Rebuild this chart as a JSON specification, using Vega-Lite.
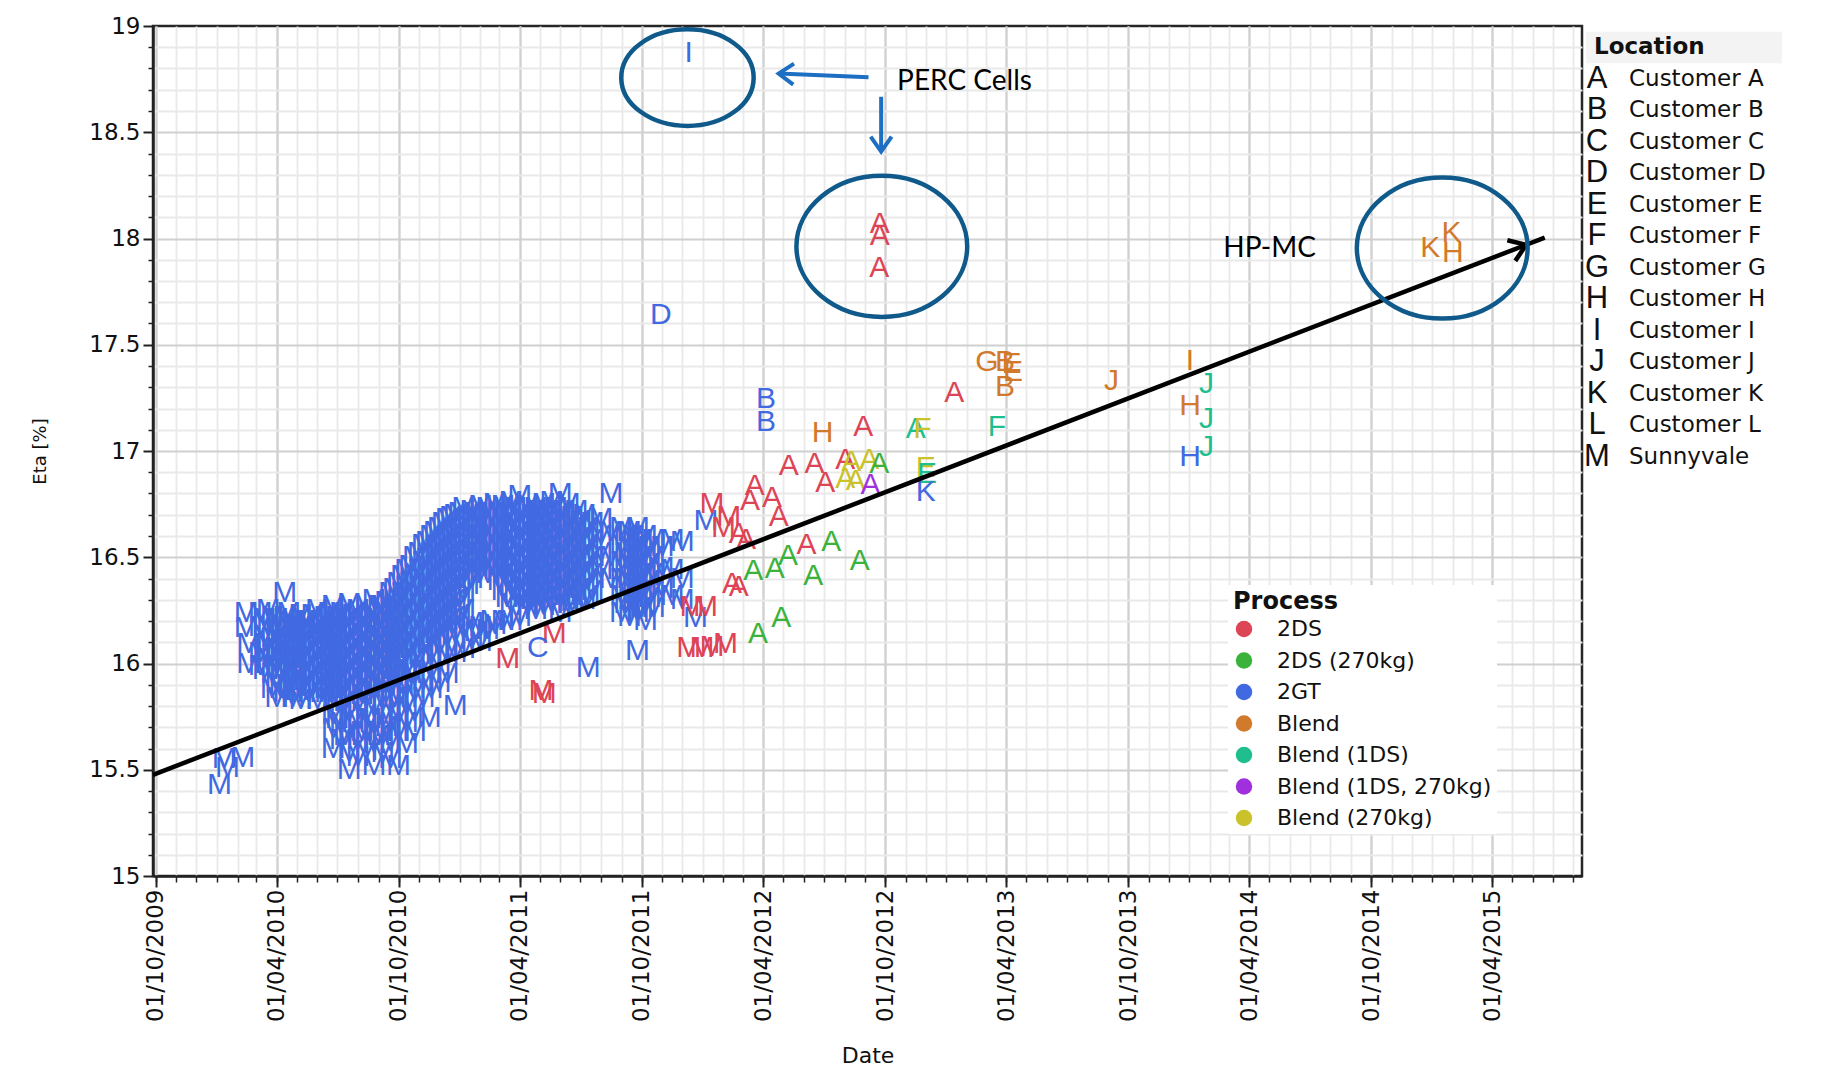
{
  "$schema": "https://vega.github.io/schema/vega-lite/v6.json",
  "background": "white",
  "padding": {"left": 30, "top": 13, "right": 0, "bottom": 0},
  "bounds": "flush",
  "spacing": 4,
  "config": {
    "view": {"stroke": "#262626", "strokeWidth": 2.5},
    "font": "DejaVu Sans",
    "axis": {"labelFont": "DejaVu Sans", "titleFont": "DejaVu Sans", "labelColor": "#111111", "titleColor": "#111111", "titleFontWeight": "normal"}
  },
  "resolve": {"scale": {"color": "independent"}, "legend": {"color": "independent"}},
  "datasets": {
    "points": [
      {"Date": "2011-12-11", "Eta": 18.874, "Location": "I", "Process": "2GT"},
      {"Date": "2012-09-23", "Eta": 18.07, "Location": "A", "Process": "2DS"},
      {"Date": "2012-09-23", "Eta": 18.01, "Location": "A", "Process": "2DS"},
      {"Date": "2012-09-22", "Eta": 17.862, "Location": "A", "Process": "2DS"},
      {"Date": "2011-10-30", "Eta": 17.638, "Location": "D", "Process": "2GT"},
      {"Date": "2012-04-05", "Eta": 17.245, "Location": "B", "Process": "2GT"},
      {"Date": "2012-04-05", "Eta": 17.135, "Location": "B", "Process": "2GT"},
      {"Date": "2012-06-29", "Eta": 17.083, "Location": "H", "Process": "Blend"},
      {"Date": "2012-08-29", "Eta": 17.111, "Location": "A", "Process": "2DS"},
      {"Date": "2012-11-16", "Eta": 17.105, "Location": "A", "Process": "Blend (1DS)"},
      {"Date": "2012-11-26", "Eta": 17.105, "Location": "F", "Process": "Blend (270kg)"},
      {"Date": "2013-01-13", "Eta": 17.272, "Location": "A", "Process": "2DS"},
      {"Date": "2013-03-03", "Eta": 17.417, "Location": "G", "Process": "Blend"},
      {"Date": "2013-03-30", "Eta": 17.417, "Location": "B", "Process": "Blend"},
      {"Date": "2013-04-09", "Eta": 17.41, "Location": "E", "Process": "Blend"},
      {"Date": "2013-04-11", "Eta": 17.37, "Location": "E", "Process": "Blend"},
      {"Date": "2013-03-30", "Eta": 17.3, "Location": "B", "Process": "Blend"},
      {"Date": "2013-03-18", "Eta": 17.111, "Location": "F", "Process": "Blend (1DS)"},
      {"Date": "2013-09-06", "Eta": 17.331, "Location": "J", "Process": "Blend"},
      {"Date": "2014-01-02", "Eta": 17.425, "Location": "I", "Process": "Blend"},
      {"Date": "2014-01-27", "Eta": 17.315, "Location": "J", "Process": "Blend (1DS)"},
      {"Date": "2014-01-02", "Eta": 17.213, "Location": "H", "Process": "Blend"},
      {"Date": "2014-01-27", "Eta": 17.151, "Location": "J", "Process": "Blend (1DS)"},
      {"Date": "2014-01-02", "Eta": 16.97, "Location": "H", "Process": "2GT"},
      {"Date": "2014-01-27", "Eta": 17.017, "Location": "J", "Process": "Blend (1DS)"},
      {"Date": "2014-12-29", "Eta": 17.955, "Location": "K", "Process": "Blend"},
      {"Date": "2015-01-30", "Eta": 18.026, "Location": "K", "Process": "Blend"},
      {"Date": "2015-02-01", "Eta": 17.933, "Location": "H", "Process": "Blend"},
      {"Date": "2012-05-09", "Eta": 16.93, "Location": "A", "Process": "2DS"},
      {"Date": "2012-06-17", "Eta": 16.94, "Location": "A", "Process": "2DS"},
      {"Date": "2012-08-02", "Eta": 16.96, "Location": "A", "Process": "2DS"},
      {"Date": "2012-08-11", "Eta": 16.95, "Location": "A", "Process": "Blend (270kg)"},
      {"Date": "2012-09-07", "Eta": 16.96, "Location": "A", "Process": "Blend (270kg)"},
      {"Date": "2012-09-22", "Eta": 16.94, "Location": "A", "Process": "2DS (270kg)"},
      {"Date": "2012-07-03", "Eta": 16.85, "Location": "A", "Process": "2DS"},
      {"Date": "2012-08-02", "Eta": 16.87, "Location": "A", "Process": "Blend (270kg)"},
      {"Date": "2012-08-18", "Eta": 16.86, "Location": "A", "Process": "Blend (270kg)"},
      {"Date": "2012-09-09", "Eta": 16.84, "Location": "A", "Process": "Blend (1DS, 270kg)"},
      {"Date": "2012-12-01", "Eta": 16.92, "Location": "E", "Process": "Blend (270kg)"},
      {"Date": "2012-12-03", "Eta": 16.89, "Location": "E", "Process": "Blend (1DS)"},
      {"Date": "2012-12-01", "Eta": 16.805, "Location": "K", "Process": "2GT"},
      {"Date": "2012-03-19", "Eta": 16.837, "Location": "A", "Process": "2DS"},
      {"Date": "2012-03-12", "Eta": 16.766, "Location": "A", "Process": "2DS"},
      {"Date": "2012-04-14", "Eta": 16.78, "Location": "A", "Process": "2DS"},
      {"Date": "2012-04-24", "Eta": 16.69, "Location": "A", "Process": "2DS"},
      {"Date": "2012-02-24", "Eta": 16.61, "Location": "A", "Process": "2DS"},
      {"Date": "2012-03-06", "Eta": 16.58, "Location": "A", "Process": "2DS"},
      {"Date": "2012-01-15", "Eta": 16.75, "Location": "M", "Process": "2DS"},
      {"Date": "2012-02-09", "Eta": 16.69, "Location": "M", "Process": "2DS"},
      {"Date": "2012-02-01", "Eta": 16.64, "Location": "M", "Process": "2DS"},
      {"Date": "2012-02-14", "Eta": 16.374, "Location": "A", "Process": "2DS"},
      {"Date": "2012-02-24", "Eta": 16.358, "Location": "A", "Process": "2DS"},
      {"Date": "2012-03-17", "Eta": 16.436, "Location": "A", "Process": "2DS (270kg)"},
      {"Date": "2012-04-18", "Eta": 16.444, "Location": "A", "Process": "2DS (270kg)"},
      {"Date": "2012-05-08", "Eta": 16.507, "Location": "A", "Process": "2DS (270kg)"},
      {"Date": "2012-06-05", "Eta": 16.56, "Location": "A", "Process": "2DS"},
      {"Date": "2012-07-12", "Eta": 16.57, "Location": "A", "Process": "2DS (270kg)"},
      {"Date": "2012-06-15", "Eta": 16.41, "Location": "A", "Process": "2DS (270kg)"},
      {"Date": "2012-08-24", "Eta": 16.483, "Location": "A", "Process": "2DS (270kg)"},
      {"Date": "2012-03-24", "Eta": 16.138, "Location": "A", "Process": "2DS (270kg)"},
      {"Date": "2012-04-28", "Eta": 16.216, "Location": "A", "Process": "2DS (270kg)"},
      {"Date": "2011-12-11", "Eta": 16.075, "Location": "M", "Process": "2DS"},
      {"Date": "2011-12-31", "Eta": 16.075, "Location": "M", "Process": "2DS"},
      {"Date": "2012-01-15", "Eta": 16.08, "Location": "M", "Process": "2DS"},
      {"Date": "2012-02-04", "Eta": 16.09, "Location": "M", "Process": "2DS"},
      {"Date": "2011-12-16", "Eta": 16.264, "Location": "M", "Process": "2DS"},
      {"Date": "2012-01-05", "Eta": 16.264, "Location": "M", "Process": "2DS"},
      {"Date": "2011-03-14", "Eta": 16.02, "Location": "M", "Process": "2DS"},
      {"Date": "2011-05-23", "Eta": 16.138, "Location": "M", "Process": "2DS"},
      {"Date": "2011-05-03", "Eta": 15.871, "Location": "M", "Process": "2DS"},
      {"Date": "2011-05-08", "Eta": 15.856, "Location": "M", "Process": "2DS"},
      {"Date": "2011-04-28", "Eta": 16.075, "Location": "C", "Process": "2GT"}
    ],
    "sunnyvale": [
      {"Date": "2010-01-05", "Eta": 15.43}, {"Date": "2010-01-12", "Eta": 15.55}, {"Date": "2010-01-17", "Eta": 15.51}, {"Date": "2010-02-09", "Eta": 15.557},
      {"Date": "2010-02-14", "Eta": 16.24}, {"Date": "2010-02-14", "Eta": 16.169}, {"Date": "2010-02-18", "Eta": 16.091}, {"Date": "2010-02-18", "Eta": 15.997},
      {"Date": "2010-11-16", "Eta": 15.745}, {"Date": "2010-12-25", "Eta": 15.8}, {"Date": "2011-07-13", "Eta": 15.98}, {"Date": "2011-12-21", "Eta": 16.216}, {"Date": "2012-01-06", "Eta": 16.67},
      {"Date": "2010-03-07", "Eta": 16.24}, {"Date": "2010-03-07", "Eta": 16.17}, {"Date": "2010-03-07", "Eta": 16.05}, {"Date": "2010-03-07", "Eta": 15.99},
      {"Date": "2010-03-19", "Eta": 16.25}, {"Date": "2010-03-19", "Eta": 16.17}, {"Date": "2010-03-19", "Eta": 16.1}, {"Date": "2010-03-19", "Eta": 16.02},
      {"Date": "2010-04-01", "Eta": 16.21}, {"Date": "2010-04-01", "Eta": 16.14}, {"Date": "2010-04-01", "Eta": 16.07}, {"Date": "2010-04-01", "Eta": 15.99}, {"Date": "2010-04-01", "Eta": 15.91}, {"Date": "2010-04-01", "Eta": 15.84},
      {"Date": "2010-04-13", "Eta": 16.33}, {"Date": "2010-04-13", "Eta": 16.22}, {"Date": "2010-04-13", "Eta": 16.16}, {"Date": "2010-04-13", "Eta": 16.1}, {"Date": "2010-04-13", "Eta": 16.04}, {"Date": "2010-04-13", "Eta": 15.97}, {"Date": "2010-04-13", "Eta": 15.86},
      {"Date": "2010-04-25", "Eta": 16.2}, {"Date": "2010-04-25", "Eta": 16.13}, {"Date": "2010-04-25", "Eta": 16.06}, {"Date": "2010-04-25", "Eta": 16.0}, {"Date": "2010-04-25", "Eta": 15.93}, {"Date": "2010-04-25", "Eta": 15.84},
      {"Date": "2010-05-07", "Eta": 16.23}, {"Date": "2010-05-07", "Eta": 16.17}, {"Date": "2010-05-07", "Eta": 16.11}, {"Date": "2010-05-07", "Eta": 16.03}, {"Date": "2010-05-07", "Eta": 15.96}, {"Date": "2010-05-07", "Eta": 15.89}, {"Date": "2010-05-07", "Eta": 15.83},
      {"Date": "2010-05-19", "Eta": 16.2}, {"Date": "2010-05-19", "Eta": 16.14}, {"Date": "2010-05-19", "Eta": 16.08}, {"Date": "2010-05-19", "Eta": 16.01}, {"Date": "2010-05-19", "Eta": 15.94}, {"Date": "2010-05-19", "Eta": 15.86},
      {"Date": "2010-06-01", "Eta": 16.25}, {"Date": "2010-06-01", "Eta": 16.18}, {"Date": "2010-06-01", "Eta": 16.12}, {"Date": "2010-06-01", "Eta": 16.05}, {"Date": "2010-06-01", "Eta": 15.98}, {"Date": "2010-06-01", "Eta": 15.9}, {"Date": "2010-06-01", "Eta": 15.83},
      {"Date": "2010-06-13", "Eta": 16.22}, {"Date": "2010-06-13", "Eta": 16.15}, {"Date": "2010-06-13", "Eta": 16.09}, {"Date": "2010-06-13", "Eta": 16.02}, {"Date": "2010-06-13", "Eta": 15.95}, {"Date": "2010-06-13", "Eta": 15.88},
      {"Date": "2010-06-25", "Eta": 16.27}, {"Date": "2010-06-25", "Eta": 16.2}, {"Date": "2010-06-25", "Eta": 16.13}, {"Date": "2010-06-25", "Eta": 16.06}, {"Date": "2010-06-25", "Eta": 15.99}, {"Date": "2010-06-25", "Eta": 15.91}, {"Date": "2010-06-25", "Eta": 15.84}, {"Date": "2010-06-25", "Eta": 15.76}, {"Date": "2010-06-25", "Eta": 15.69}, {"Date": "2010-06-25", "Eta": 15.6},
      {"Date": "2010-07-07", "Eta": 16.24}, {"Date": "2010-07-07", "Eta": 16.17}, {"Date": "2010-07-07", "Eta": 16.1}, {"Date": "2010-07-07", "Eta": 16.03}, {"Date": "2010-07-07", "Eta": 15.96}, {"Date": "2010-07-07", "Eta": 15.88}, {"Date": "2010-07-07", "Eta": 15.8}, {"Date": "2010-07-07", "Eta": 15.72}, {"Date": "2010-07-07", "Eta": 15.64},
      {"Date": "2010-07-19", "Eta": 16.28}, {"Date": "2010-07-19", "Eta": 16.21}, {"Date": "2010-07-19", "Eta": 16.14}, {"Date": "2010-07-19", "Eta": 16.07}, {"Date": "2010-07-19", "Eta": 16.0}, {"Date": "2010-07-19", "Eta": 15.93}, {"Date": "2010-07-19", "Eta": 15.85}, {"Date": "2010-07-19", "Eta": 15.77}, {"Date": "2010-07-19", "Eta": 15.68}, {"Date": "2010-07-19", "Eta": 15.58}, {"Date": "2010-07-19", "Eta": 15.5},
      {"Date": "2010-08-01", "Eta": 16.25}, {"Date": "2010-08-01", "Eta": 16.18}, {"Date": "2010-08-01", "Eta": 16.11}, {"Date": "2010-08-01", "Eta": 16.04}, {"Date": "2010-08-01", "Eta": 15.97}, {"Date": "2010-08-01", "Eta": 15.89}, {"Date": "2010-08-01", "Eta": 15.81}, {"Date": "2010-08-01", "Eta": 15.73}, {"Date": "2010-08-01", "Eta": 15.64}, {"Date": "2010-08-01", "Eta": 15.56},
      {"Date": "2010-08-13", "Eta": 16.27}, {"Date": "2010-08-13", "Eta": 16.2}, {"Date": "2010-08-13", "Eta": 16.13}, {"Date": "2010-08-13", "Eta": 16.06}, {"Date": "2010-08-13", "Eta": 15.99}, {"Date": "2010-08-13", "Eta": 15.92}, {"Date": "2010-08-13", "Eta": 15.84}, {"Date": "2010-08-13", "Eta": 15.76}, {"Date": "2010-08-13", "Eta": 15.68}, {"Date": "2010-08-13", "Eta": 15.59},
      {"Date": "2010-08-25", "Eta": 16.3}, {"Date": "2010-08-25", "Eta": 16.23}, {"Date": "2010-08-25", "Eta": 16.16}, {"Date": "2010-08-25", "Eta": 16.09}, {"Date": "2010-08-25", "Eta": 16.02}, {"Date": "2010-08-25", "Eta": 15.95}, {"Date": "2010-08-25", "Eta": 15.87}, {"Date": "2010-08-25", "Eta": 15.79}, {"Date": "2010-08-25", "Eta": 15.71}, {"Date": "2010-08-25", "Eta": 15.62}, {"Date": "2010-08-25", "Eta": 15.52},
      {"Date": "2010-09-07", "Eta": 16.26}, {"Date": "2010-09-07", "Eta": 16.19}, {"Date": "2010-09-07", "Eta": 16.12}, {"Date": "2010-09-07", "Eta": 16.05}, {"Date": "2010-09-07", "Eta": 15.98}, {"Date": "2010-09-07", "Eta": 15.9}, {"Date": "2010-09-07", "Eta": 15.82}, {"Date": "2010-09-07", "Eta": 15.74}, {"Date": "2010-09-07", "Eta": 15.66}, {"Date": "2010-09-07", "Eta": 15.58},
      {"Date": "2010-09-19", "Eta": 16.33}, {"Date": "2010-09-19", "Eta": 16.25}, {"Date": "2010-09-19", "Eta": 16.18}, {"Date": "2010-09-19", "Eta": 16.11}, {"Date": "2010-09-19", "Eta": 16.04}, {"Date": "2010-09-19", "Eta": 15.96}, {"Date": "2010-09-19", "Eta": 15.88}, {"Date": "2010-09-19", "Eta": 15.8}, {"Date": "2010-09-19", "Eta": 15.72}, {"Date": "2010-09-19", "Eta": 15.63}, {"Date": "2010-09-19", "Eta": 15.55},
      {"Date": "2010-10-01", "Eta": 16.38}, {"Date": "2010-10-01", "Eta": 16.3}, {"Date": "2010-10-01", "Eta": 16.22}, {"Date": "2010-10-01", "Eta": 16.15}, {"Date": "2010-10-01", "Eta": 16.08}, {"Date": "2010-10-01", "Eta": 16.0}, {"Date": "2010-10-01", "Eta": 15.92}, {"Date": "2010-10-01", "Eta": 15.84}, {"Date": "2010-10-01", "Eta": 15.76}, {"Date": "2010-10-01", "Eta": 15.68}, {"Date": "2010-10-01", "Eta": 15.52},
      {"Date": "2010-10-13", "Eta": 16.44}, {"Date": "2010-10-13", "Eta": 16.36}, {"Date": "2010-10-13", "Eta": 16.28}, {"Date": "2010-10-13", "Eta": 16.2}, {"Date": "2010-10-13", "Eta": 16.12}, {"Date": "2010-10-13", "Eta": 16.05}, {"Date": "2010-10-13", "Eta": 15.97}, {"Date": "2010-10-13", "Eta": 15.89}, {"Date": "2010-10-13", "Eta": 15.8}, {"Date": "2010-10-13", "Eta": 15.72}, {"Date": "2010-10-13", "Eta": 15.62},
      {"Date": "2010-10-25", "Eta": 16.5}, {"Date": "2010-10-25", "Eta": 16.42}, {"Date": "2010-10-25", "Eta": 16.34}, {"Date": "2010-10-25", "Eta": 16.26}, {"Date": "2010-10-25", "Eta": 16.18}, {"Date": "2010-10-25", "Eta": 16.1}, {"Date": "2010-10-25", "Eta": 16.02}, {"Date": "2010-10-25", "Eta": 15.94}, {"Date": "2010-10-25", "Eta": 15.86}, {"Date": "2010-10-25", "Eta": 15.77}, {"Date": "2010-10-25", "Eta": 15.68},
      {"Date": "2010-11-07", "Eta": 16.56}, {"Date": "2010-11-07", "Eta": 16.48}, {"Date": "2010-11-07", "Eta": 16.4}, {"Date": "2010-11-07", "Eta": 16.32}, {"Date": "2010-11-07", "Eta": 16.24}, {"Date": "2010-11-07", "Eta": 16.16}, {"Date": "2010-11-07", "Eta": 16.08}, {"Date": "2010-11-07", "Eta": 16.0}, {"Date": "2010-11-07", "Eta": 15.92}, {"Date": "2010-11-07", "Eta": 15.84},
      {"Date": "2010-11-19", "Eta": 16.6}, {"Date": "2010-11-19", "Eta": 16.52}, {"Date": "2010-11-19", "Eta": 16.44}, {"Date": "2010-11-19", "Eta": 16.36}, {"Date": "2010-11-19", "Eta": 16.28}, {"Date": "2010-11-19", "Eta": 16.2}, {"Date": "2010-11-19", "Eta": 16.12}, {"Date": "2010-11-19", "Eta": 16.04}, {"Date": "2010-11-19", "Eta": 15.96}, {"Date": "2010-11-19", "Eta": 15.88},
      {"Date": "2010-12-01", "Eta": 16.64}, {"Date": "2010-12-01", "Eta": 16.56}, {"Date": "2010-12-01", "Eta": 16.48}, {"Date": "2010-12-01", "Eta": 16.4}, {"Date": "2010-12-01", "Eta": 16.32}, {"Date": "2010-12-01", "Eta": 16.24}, {"Date": "2010-12-01", "Eta": 16.16}, {"Date": "2010-12-01", "Eta": 16.08}, {"Date": "2010-12-01", "Eta": 16.0}, {"Date": "2010-12-01", "Eta": 15.91},
      {"Date": "2010-12-13", "Eta": 16.68}, {"Date": "2010-12-13", "Eta": 16.6}, {"Date": "2010-12-13", "Eta": 16.52}, {"Date": "2010-12-13", "Eta": 16.44}, {"Date": "2010-12-13", "Eta": 16.36}, {"Date": "2010-12-13", "Eta": 16.28}, {"Date": "2010-12-13", "Eta": 16.2}, {"Date": "2010-12-13", "Eta": 16.12}, {"Date": "2010-12-13", "Eta": 16.04}, {"Date": "2010-12-13", "Eta": 15.95},
      {"Date": "2010-12-25", "Eta": 16.7}, {"Date": "2010-12-25", "Eta": 16.62}, {"Date": "2010-12-25", "Eta": 16.54}, {"Date": "2010-12-25", "Eta": 16.46}, {"Date": "2010-12-25", "Eta": 16.38}, {"Date": "2010-12-25", "Eta": 16.3}, {"Date": "2010-12-25", "Eta": 16.22}, {"Date": "2010-12-25", "Eta": 16.14}, {"Date": "2010-12-25", "Eta": 16.05},
      {"Date": "2011-01-07", "Eta": 16.73}, {"Date": "2011-01-07", "Eta": 16.65}, {"Date": "2011-01-07", "Eta": 16.57}, {"Date": "2011-01-07", "Eta": 16.49}, {"Date": "2011-01-07", "Eta": 16.41}, {"Date": "2011-01-07", "Eta": 16.33}, {"Date": "2011-01-07", "Eta": 16.25}, {"Date": "2011-01-07", "Eta": 16.16}, {"Date": "2011-01-07", "Eta": 16.07},
      {"Date": "2011-01-19", "Eta": 16.72}, {"Date": "2011-01-19", "Eta": 16.64}, {"Date": "2011-01-19", "Eta": 16.56}, {"Date": "2011-01-19", "Eta": 16.48}, {"Date": "2011-01-19", "Eta": 16.4}, {"Date": "2011-01-19", "Eta": 16.19}, {"Date": "2011-01-19", "Eta": 16.11},
      {"Date": "2011-02-01", "Eta": 16.74}, {"Date": "2011-02-01", "Eta": 16.66}, {"Date": "2011-02-01", "Eta": 16.58}, {"Date": "2011-02-01", "Eta": 16.5}, {"Date": "2011-02-01", "Eta": 16.43}, {"Date": "2011-02-01", "Eta": 16.17}, {"Date": "2011-02-01", "Eta": 16.1},
      {"Date": "2011-02-12", "Eta": 16.73}, {"Date": "2011-02-12", "Eta": 16.65}, {"Date": "2011-02-12", "Eta": 16.57}, {"Date": "2011-02-12", "Eta": 16.49}, {"Date": "2011-02-12", "Eta": 16.42}, {"Date": "2011-02-12", "Eta": 16.16},
      {"Date": "2011-02-23", "Eta": 16.75}, {"Date": "2011-02-23", "Eta": 16.67}, {"Date": "2011-02-23", "Eta": 16.59}, {"Date": "2011-02-23", "Eta": 16.51}, {"Date": "2011-02-23", "Eta": 16.44}, {"Date": "2011-02-23", "Eta": 16.18},
      {"Date": "2011-03-07", "Eta": 16.74}, {"Date": "2011-03-07", "Eta": 16.66}, {"Date": "2011-03-07", "Eta": 16.58}, {"Date": "2011-03-07", "Eta": 16.5}, {"Date": "2011-03-07", "Eta": 16.42}, {"Date": "2011-03-07", "Eta": 16.34}, {"Date": "2011-03-07", "Eta": 16.2},
      {"Date": "2011-03-19", "Eta": 16.76}, {"Date": "2011-03-19", "Eta": 16.68}, {"Date": "2011-03-19", "Eta": 16.6}, {"Date": "2011-03-19", "Eta": 16.52}, {"Date": "2011-03-19", "Eta": 16.44}, {"Date": "2011-03-19", "Eta": 16.36}, {"Date": "2011-03-19", "Eta": 16.28}, {"Date": "2011-03-19", "Eta": 16.2},
      {"Date": "2011-04-01", "Eta": 16.79}, {"Date": "2011-04-01", "Eta": 16.7}, {"Date": "2011-04-01", "Eta": 16.62}, {"Date": "2011-04-01", "Eta": 16.54}, {"Date": "2011-04-01", "Eta": 16.46}, {"Date": "2011-04-01", "Eta": 16.38}, {"Date": "2011-04-01", "Eta": 16.3}, {"Date": "2011-04-01", "Eta": 16.22},
      {"Date": "2011-04-13", "Eta": 16.74}, {"Date": "2011-04-13", "Eta": 16.66}, {"Date": "2011-04-13", "Eta": 16.58}, {"Date": "2011-04-13", "Eta": 16.5}, {"Date": "2011-04-13", "Eta": 16.42}, {"Date": "2011-04-13", "Eta": 16.34}, {"Date": "2011-04-13", "Eta": 16.27},
      {"Date": "2011-04-25", "Eta": 16.73}, {"Date": "2011-04-25", "Eta": 16.65}, {"Date": "2011-04-25", "Eta": 16.57}, {"Date": "2011-04-25", "Eta": 16.49}, {"Date": "2011-04-25", "Eta": 16.41}, {"Date": "2011-04-25", "Eta": 16.33}, {"Date": "2011-04-25", "Eta": 16.25},
      {"Date": "2011-05-07", "Eta": 16.75}, {"Date": "2011-05-07", "Eta": 16.67}, {"Date": "2011-05-07", "Eta": 16.59}, {"Date": "2011-05-07", "Eta": 16.51}, {"Date": "2011-05-07", "Eta": 16.43}, {"Date": "2011-05-07", "Eta": 16.35}, {"Date": "2011-05-07", "Eta": 16.27},
      {"Date": "2011-05-19", "Eta": 16.76}, {"Date": "2011-05-19", "Eta": 16.68}, {"Date": "2011-05-19", "Eta": 16.6}, {"Date": "2011-05-19", "Eta": 16.52}, {"Date": "2011-05-19", "Eta": 16.44}, {"Date": "2011-05-19", "Eta": 16.36}, {"Date": "2011-05-19", "Eta": 16.28},
      {"Date": "2011-06-01", "Eta": 16.8}, {"Date": "2011-06-01", "Eta": 16.71}, {"Date": "2011-06-01", "Eta": 16.63}, {"Date": "2011-06-01", "Eta": 16.55}, {"Date": "2011-06-01", "Eta": 16.47}, {"Date": "2011-06-01", "Eta": 16.39}, {"Date": "2011-06-01", "Eta": 16.31}, {"Date": "2011-06-01", "Eta": 16.24},
      {"Date": "2011-06-13", "Eta": 16.75}, {"Date": "2011-06-13", "Eta": 16.67}, {"Date": "2011-06-13", "Eta": 16.59}, {"Date": "2011-06-13", "Eta": 16.51}, {"Date": "2011-06-13", "Eta": 16.43}, {"Date": "2011-06-13", "Eta": 16.35}, {"Date": "2011-06-13", "Eta": 16.28},
      {"Date": "2011-06-25", "Eta": 16.72}, {"Date": "2011-06-25", "Eta": 16.64}, {"Date": "2011-06-25", "Eta": 16.56}, {"Date": "2011-06-25", "Eta": 16.48}, {"Date": "2011-06-25", "Eta": 16.4}, {"Date": "2011-06-25", "Eta": 16.32},
      {"Date": "2011-07-07", "Eta": 16.7}, {"Date": "2011-07-07", "Eta": 16.62}, {"Date": "2011-07-07", "Eta": 16.54}, {"Date": "2011-07-07", "Eta": 16.46}, {"Date": "2011-07-07", "Eta": 16.38}, {"Date": "2011-07-07", "Eta": 16.3},
      {"Date": "2011-07-19", "Eta": 16.66}, {"Date": "2011-07-19", "Eta": 16.58}, {"Date": "2011-07-19", "Eta": 16.5}, {"Date": "2011-07-19", "Eta": 16.42}, {"Date": "2011-07-19", "Eta": 16.34},
      {"Date": "2011-08-01", "Eta": 16.68}, {"Date": "2011-08-01", "Eta": 16.6}, {"Date": "2011-08-01", "Eta": 16.52}, {"Date": "2011-08-01", "Eta": 16.44},
      {"Date": "2011-08-16", "Eta": 16.8}, {"Date": "2011-08-16", "Eta": 16.62}, {"Date": "2011-08-16", "Eta": 16.5}, {"Date": "2011-08-16", "Eta": 16.4},
      {"Date": "2011-09-01", "Eta": 16.64}, {"Date": "2011-09-01", "Eta": 16.56}, {"Date": "2011-09-01", "Eta": 16.48}, {"Date": "2011-09-01", "Eta": 16.4}, {"Date": "2011-09-01", "Eta": 16.32}, {"Date": "2011-09-01", "Eta": 16.24},
      {"Date": "2011-09-13", "Eta": 16.62}, {"Date": "2011-09-13", "Eta": 16.54}, {"Date": "2011-09-13", "Eta": 16.46}, {"Date": "2011-09-13", "Eta": 16.38}, {"Date": "2011-09-13", "Eta": 16.3}, {"Date": "2011-09-13", "Eta": 16.22},
      {"Date": "2011-09-25", "Eta": 16.64}, {"Date": "2011-09-25", "Eta": 16.56}, {"Date": "2011-09-25", "Eta": 16.48}, {"Date": "2011-09-25", "Eta": 16.4}, {"Date": "2011-09-25", "Eta": 16.32}, {"Date": "2011-09-25", "Eta": 16.24}, {"Date": "2011-09-25", "Eta": 16.06},
      {"Date": "2011-10-07", "Eta": 16.6}, {"Date": "2011-10-07", "Eta": 16.52}, {"Date": "2011-10-07", "Eta": 16.44}, {"Date": "2011-10-07", "Eta": 16.36}, {"Date": "2011-10-07", "Eta": 16.28}, {"Date": "2011-10-07", "Eta": 16.2},
      {"Date": "2011-10-19", "Eta": 16.58}, {"Date": "2011-10-19", "Eta": 16.5}, {"Date": "2011-10-19", "Eta": 16.42}, {"Date": "2011-10-19", "Eta": 16.34}, {"Date": "2011-10-19", "Eta": 16.26},
      {"Date": "2011-11-01", "Eta": 16.55}, {"Date": "2011-11-01", "Eta": 16.45}, {"Date": "2011-11-01", "Eta": 16.35},
      {"Date": "2011-11-16", "Eta": 16.58}, {"Date": "2011-11-16", "Eta": 16.44}, {"Date": "2011-11-16", "Eta": 16.32},
      {"Date": "2011-12-01", "Eta": 16.57}, {"Date": "2011-12-01", "Eta": 16.4}, {"Date": "2011-12-01", "Eta": 16.3},
      {"Date": "2010-03-13", "Eta": 16.21}, {"Date": "2010-03-13", "Eta": 16.13}, {"Date": "2010-03-13", "Eta": 16.06}, {"Date": "2010-03-13", "Eta": 15.97},
      {"Date": "2010-03-25", "Eta": 16.22}, {"Date": "2010-03-25", "Eta": 16.12}, {"Date": "2010-03-25", "Eta": 16.04}, {"Date": "2010-03-25", "Eta": 15.95}, {"Date": "2010-03-25", "Eta": 15.88},
      {"Date": "2010-04-07", "Eta": 16.18}, {"Date": "2010-04-07", "Eta": 16.11}, {"Date": "2010-04-07", "Eta": 16.03}, {"Date": "2010-04-07", "Eta": 15.95}, {"Date": "2010-04-07", "Eta": 15.88},
      {"Date": "2010-04-19", "Eta": 16.24}, {"Date": "2010-04-19", "Eta": 16.17}, {"Date": "2010-04-19", "Eta": 16.09}, {"Date": "2010-04-19", "Eta": 16.02}, {"Date": "2010-04-19", "Eta": 15.9},
      {"Date": "2010-05-01", "Eta": 16.16}, {"Date": "2010-05-01", "Eta": 16.09}, {"Date": "2010-05-01", "Eta": 16.02}, {"Date": "2010-05-01", "Eta": 15.95}, {"Date": "2010-05-01", "Eta": 15.87},
      {"Date": "2010-05-13", "Eta": 16.2}, {"Date": "2010-05-13", "Eta": 16.14}, {"Date": "2010-05-13", "Eta": 16.06}, {"Date": "2010-05-13", "Eta": 15.99}, {"Date": "2010-05-13", "Eta": 15.92},
      {"Date": "2010-05-25", "Eta": 16.23}, {"Date": "2010-05-25", "Eta": 16.16}, {"Date": "2010-05-25", "Eta": 16.1}, {"Date": "2010-05-25", "Eta": 16.03}, {"Date": "2010-05-25", "Eta": 15.96}, {"Date": "2010-05-25", "Eta": 15.89},
      {"Date": "2010-06-07", "Eta": 16.2}, {"Date": "2010-06-07", "Eta": 16.14}, {"Date": "2010-06-07", "Eta": 16.07}, {"Date": "2010-06-07", "Eta": 16.0}, {"Date": "2010-06-07", "Eta": 15.93}, {"Date": "2010-06-07", "Eta": 15.86},
      {"Date": "2010-06-19", "Eta": 16.24}, {"Date": "2010-06-19", "Eta": 16.17}, {"Date": "2010-06-19", "Eta": 16.1}, {"Date": "2010-06-19", "Eta": 16.03}, {"Date": "2010-06-19", "Eta": 15.96}, {"Date": "2010-06-19", "Eta": 15.88},
      {"Date": "2010-07-01", "Eta": 16.22}, {"Date": "2010-07-01", "Eta": 16.14}, {"Date": "2010-07-01", "Eta": 16.06}, {"Date": "2010-07-01", "Eta": 15.99}, {"Date": "2010-07-01", "Eta": 15.92}, {"Date": "2010-07-01", "Eta": 15.84}, {"Date": "2010-07-01", "Eta": 15.74},
      {"Date": "2010-07-13", "Eta": 16.2}, {"Date": "2010-07-13", "Eta": 16.12}, {"Date": "2010-07-13", "Eta": 16.05}, {"Date": "2010-07-13", "Eta": 15.98}, {"Date": "2010-07-13", "Eta": 15.9}, {"Date": "2010-07-13", "Eta": 15.82}, {"Date": "2010-07-13", "Eta": 15.66},
      {"Date": "2010-07-25", "Eta": 16.23}, {"Date": "2010-07-25", "Eta": 16.16}, {"Date": "2010-07-25", "Eta": 16.09}, {"Date": "2010-07-25", "Eta": 16.02}, {"Date": "2010-07-25", "Eta": 15.95}, {"Date": "2010-07-25", "Eta": 15.87}, {"Date": "2010-07-25", "Eta": 15.72},
      {"Date": "2010-08-07", "Eta": 16.21}, {"Date": "2010-08-07", "Eta": 16.14}, {"Date": "2010-08-07", "Eta": 16.07}, {"Date": "2010-08-07", "Eta": 16.0}, {"Date": "2010-08-07", "Eta": 15.93}, {"Date": "2010-08-07", "Eta": 15.85}, {"Date": "2010-08-07", "Eta": 15.68},
      {"Date": "2010-08-19", "Eta": 16.24}, {"Date": "2010-08-19", "Eta": 16.17}, {"Date": "2010-08-19", "Eta": 16.1}, {"Date": "2010-08-19", "Eta": 16.03}, {"Date": "2010-08-19", "Eta": 15.96}, {"Date": "2010-08-19", "Eta": 15.88}, {"Date": "2010-08-19", "Eta": 15.74},
      {"Date": "2010-09-01", "Eta": 16.27}, {"Date": "2010-09-01", "Eta": 16.2}, {"Date": "2010-09-01", "Eta": 16.13}, {"Date": "2010-09-01", "Eta": 16.06}, {"Date": "2010-09-01", "Eta": 15.99}, {"Date": "2010-09-01", "Eta": 15.91}, {"Date": "2010-09-01", "Eta": 15.66},
      {"Date": "2010-09-13", "Eta": 16.29}, {"Date": "2010-09-13", "Eta": 16.22}, {"Date": "2010-09-13", "Eta": 16.15}, {"Date": "2010-09-13", "Eta": 16.08}, {"Date": "2010-09-13", "Eta": 16.01}, {"Date": "2010-09-13", "Eta": 15.93}, {"Date": "2010-09-13", "Eta": 15.7},
      {"Date": "2010-09-25", "Eta": 16.35}, {"Date": "2010-09-25", "Eta": 16.27}, {"Date": "2010-09-25", "Eta": 16.2}, {"Date": "2010-09-25", "Eta": 16.13}, {"Date": "2010-09-25", "Eta": 16.05}, {"Date": "2010-09-25", "Eta": 15.97}, {"Date": "2010-09-25", "Eta": 15.84},
      {"Date": "2010-10-07", "Eta": 16.41}, {"Date": "2010-10-07", "Eta": 16.33}, {"Date": "2010-10-07", "Eta": 16.25}, {"Date": "2010-10-07", "Eta": 16.17}, {"Date": "2010-10-07", "Eta": 16.1}, {"Date": "2010-10-07", "Eta": 16.02}, {"Date": "2010-10-07", "Eta": 15.9},
      {"Date": "2010-10-19", "Eta": 16.46}, {"Date": "2010-10-19", "Eta": 16.38}, {"Date": "2010-10-19", "Eta": 16.3}, {"Date": "2010-10-19", "Eta": 16.23}, {"Date": "2010-10-19", "Eta": 16.15}, {"Date": "2010-10-19", "Eta": 16.07}, {"Date": "2010-10-19", "Eta": 15.95},
      {"Date": "2010-11-01", "Eta": 16.52}, {"Date": "2010-11-01", "Eta": 16.44}, {"Date": "2010-11-01", "Eta": 16.36}, {"Date": "2010-11-01", "Eta": 16.28}, {"Date": "2010-11-01", "Eta": 16.2}, {"Date": "2010-11-01", "Eta": 16.12}, {"Date": "2010-11-01", "Eta": 16.04},
      {"Date": "2010-11-13", "Eta": 16.57}, {"Date": "2010-11-13", "Eta": 16.49}, {"Date": "2010-11-13", "Eta": 16.41}, {"Date": "2010-11-13", "Eta": 16.33}, {"Date": "2010-11-13", "Eta": 16.25}, {"Date": "2010-11-13", "Eta": 16.17}, {"Date": "2010-11-13", "Eta": 16.09},
      {"Date": "2010-11-25", "Eta": 16.62}, {"Date": "2010-11-25", "Eta": 16.54}, {"Date": "2010-11-25", "Eta": 16.46}, {"Date": "2010-11-25", "Eta": 16.38}, {"Date": "2010-11-25", "Eta": 16.3}, {"Date": "2010-11-25", "Eta": 16.22}, {"Date": "2010-11-25", "Eta": 16.14},
      {"Date": "2010-12-07", "Eta": 16.66}, {"Date": "2010-12-07", "Eta": 16.58}, {"Date": "2010-12-07", "Eta": 16.5}, {"Date": "2010-12-07", "Eta": 16.42}, {"Date": "2010-12-07", "Eta": 16.34}, {"Date": "2010-12-07", "Eta": 16.26}, {"Date": "2010-12-07", "Eta": 16.18},
      {"Date": "2010-12-19", "Eta": 16.69}, {"Date": "2010-12-19", "Eta": 16.61}, {"Date": "2010-12-19", "Eta": 16.53}, {"Date": "2010-12-19", "Eta": 16.45}, {"Date": "2010-12-19", "Eta": 16.37}, {"Date": "2010-12-19", "Eta": 16.29}, {"Date": "2010-12-19", "Eta": 16.21},
      {"Date": "2011-01-01", "Eta": 16.71}, {"Date": "2011-01-01", "Eta": 16.63}, {"Date": "2011-01-01", "Eta": 16.55}, {"Date": "2011-01-01", "Eta": 16.47}, {"Date": "2011-01-01", "Eta": 16.39}, {"Date": "2011-01-01", "Eta": 16.31}, {"Date": "2011-01-01", "Eta": 16.23},
      {"Date": "2011-01-13", "Eta": 16.69}, {"Date": "2011-01-13", "Eta": 16.61}, {"Date": "2011-01-13", "Eta": 16.53}, {"Date": "2011-01-13", "Eta": 16.45}, {"Date": "2011-01-13", "Eta": 16.37},
      {"Date": "2011-01-25", "Eta": 16.7}, {"Date": "2011-01-25", "Eta": 16.62}, {"Date": "2011-01-25", "Eta": 16.54}, {"Date": "2011-01-25", "Eta": 16.46}, {"Date": "2011-01-25", "Eta": 16.15},
      {"Date": "2011-02-07", "Eta": 16.7}, {"Date": "2011-02-07", "Eta": 16.62}, {"Date": "2011-02-07", "Eta": 16.54}, {"Date": "2011-02-07", "Eta": 16.46},
      {"Date": "2011-02-18", "Eta": 16.71}, {"Date": "2011-02-18", "Eta": 16.63}, {"Date": "2011-02-18", "Eta": 16.55}, {"Date": "2011-02-18", "Eta": 16.47}, {"Date": "2011-02-18", "Eta": 16.2},
      {"Date": "2011-03-01", "Eta": 16.71}, {"Date": "2011-03-01", "Eta": 16.63}, {"Date": "2011-03-01", "Eta": 16.55}, {"Date": "2011-03-01", "Eta": 16.47}, {"Date": "2011-03-01", "Eta": 16.39},
      {"Date": "2011-03-13", "Eta": 16.71}, {"Date": "2011-03-13", "Eta": 16.63}, {"Date": "2011-03-13", "Eta": 16.55}, {"Date": "2011-03-13", "Eta": 16.47}, {"Date": "2011-03-13", "Eta": 16.39}, {"Date": "2011-03-13", "Eta": 16.31},
      {"Date": "2011-03-25", "Eta": 16.73}, {"Date": "2011-03-25", "Eta": 16.65}, {"Date": "2011-03-25", "Eta": 16.57}, {"Date": "2011-03-25", "Eta": 16.49}, {"Date": "2011-03-25", "Eta": 16.41}, {"Date": "2011-03-25", "Eta": 16.33},
      {"Date": "2011-04-07", "Eta": 16.72}, {"Date": "2011-04-07", "Eta": 16.64}, {"Date": "2011-04-07", "Eta": 16.56}, {"Date": "2011-04-07", "Eta": 16.48}, {"Date": "2011-04-07", "Eta": 16.4}, {"Date": "2011-04-07", "Eta": 16.32},
      {"Date": "2011-04-19", "Eta": 16.7}, {"Date": "2011-04-19", "Eta": 16.62}, {"Date": "2011-04-19", "Eta": 16.54}, {"Date": "2011-04-19", "Eta": 16.46}, {"Date": "2011-04-19", "Eta": 16.38}, {"Date": "2011-04-19", "Eta": 16.3},
      {"Date": "2011-05-01", "Eta": 16.71}, {"Date": "2011-05-01", "Eta": 16.63}, {"Date": "2011-05-01", "Eta": 16.55}, {"Date": "2011-05-01", "Eta": 16.47}, {"Date": "2011-05-01", "Eta": 16.39}, {"Date": "2011-05-01", "Eta": 16.31},
      {"Date": "2011-05-13", "Eta": 16.72}, {"Date": "2011-05-13", "Eta": 16.64}, {"Date": "2011-05-13", "Eta": 16.56}, {"Date": "2011-05-13", "Eta": 16.48}, {"Date": "2011-05-13", "Eta": 16.4}, {"Date": "2011-05-13", "Eta": 16.32},
      {"Date": "2011-05-25", "Eta": 16.73}, {"Date": "2011-05-25", "Eta": 16.65}, {"Date": "2011-05-25", "Eta": 16.57}, {"Date": "2011-05-25", "Eta": 16.49}, {"Date": "2011-05-25", "Eta": 16.41}, {"Date": "2011-05-25", "Eta": 16.33},
      {"Date": "2011-06-07", "Eta": 16.72}, {"Date": "2011-06-07", "Eta": 16.64}, {"Date": "2011-06-07", "Eta": 16.56}, {"Date": "2011-06-07", "Eta": 16.48}, {"Date": "2011-06-07", "Eta": 16.4}, {"Date": "2011-06-07", "Eta": 16.32},
      {"Date": "2011-06-19", "Eta": 16.69}, {"Date": "2011-06-19", "Eta": 16.61}, {"Date": "2011-06-19", "Eta": 16.53}, {"Date": "2011-06-19", "Eta": 16.45}, {"Date": "2011-06-19", "Eta": 16.37}, {"Date": "2011-06-19", "Eta": 16.29},
      {"Date": "2011-07-01", "Eta": 16.67}, {"Date": "2011-07-01", "Eta": 16.59}, {"Date": "2011-07-01", "Eta": 16.51}, {"Date": "2011-07-01", "Eta": 16.43}, {"Date": "2011-07-01", "Eta": 16.35},
      {"Date": "2011-07-13", "Eta": 16.64}, {"Date": "2011-07-13", "Eta": 16.56}, {"Date": "2011-07-13", "Eta": 16.48}, {"Date": "2011-07-13", "Eta": 16.4}, {"Date": "2011-07-13", "Eta": 16.32},
      {"Date": "2011-09-07", "Eta": 16.6}, {"Date": "2011-09-07", "Eta": 16.52}, {"Date": "2011-09-07", "Eta": 16.44}, {"Date": "2011-09-07", "Eta": 16.36}, {"Date": "2011-09-07", "Eta": 16.28},
      {"Date": "2011-09-19", "Eta": 16.6}, {"Date": "2011-09-19", "Eta": 16.52}, {"Date": "2011-09-19", "Eta": 16.44}, {"Date": "2011-09-19", "Eta": 16.36}, {"Date": "2011-09-19", "Eta": 16.28},
      {"Date": "2011-10-01", "Eta": 16.58}, {"Date": "2011-10-01", "Eta": 16.5}, {"Date": "2011-10-01", "Eta": 16.42}, {"Date": "2011-10-01", "Eta": 16.34}, {"Date": "2011-10-01", "Eta": 16.26},
      {"Date": "2011-10-13", "Eta": 16.55}, {"Date": "2011-10-13", "Eta": 16.47}, {"Date": "2011-10-13", "Eta": 16.39}, {"Date": "2011-10-13", "Eta": 16.31}
    ]
  },
  "hconcat": [
    {
      "width": 1429,
      "height": 850,
      "resolve": {"axis": {"x": "independent", "y": "independent"}},
      "layer": [
        {
          "data": {"name": "sunnyvale"},
          "mark": {"type": "text", "font": "Liberation Sans", "fontSize": 30, "align": "center", "baseline": "middle"},
          "encoding": {
            "x": {
              "field": "Date", "type": "temporal",
              "scale": {"domain": [{"year": 2009, "month": 9, "date": 27}, {"year": 2015, "month": 8, "date": 14}]},
              "axis": {"orient": "bottom", "title": null, "labels": false, "domain": false, "tickCount": {"interval": "month", "step": 1},
                       "grid": true, "gridColor": "#e9e9e9", "gridWidth": 1.8, "tickColor": "#222222", "tickSize": 6, "tickWidth": 1.5}
            },
            "y": {
              "field": "Eta", "type": "quantitative",
              "scale": {"domain": [15, 19]},
              "axis": {"orient": "left", "title": null, "labels": false, "domain": false,
                       "values": [15.1, 15.2, 15.3, 15.4, 15.6, 15.7, 15.8, 15.9, 16.1, 16.2, 16.3, 16.4, 16.6, 16.7, 16.8, 16.9, 17.1, 17.2, 17.3, 17.4, 17.6, 17.7, 17.8, 17.9, 18.1, 18.2, 18.3, 18.4, 18.6, 18.7, 18.8, 18.9],
                       "grid": true, "gridColor": "#e9e9e9", "gridWidth": 1.8, "tickColor": "#222222", "tickSize": 5, "tickWidth": 1.5}
            },
            "text": {"value": "M"},
            "color": {"datum": "2GT"}
          }
        },
        {
          "layer": [
            {
              "data": {"name": "points"},
              "mark": {"type": "text", "font": "Liberation Sans", "fontSize": 30, "align": "center", "baseline": "middle"},
              "encoding": {
                "x": {
                  "field": "Date", "type": "temporal",
                  "axis": {
                    "orient": "bottom", "title": "Date", "format": "%d/%m/%Y", "labelAngle": 270, "labelFontSize": 23, "labelPadding": 2,
                    "labelFlush": false, "labelOverlap": false, "labelBound": false,
                    "values": [
                      {"year": 2009, "month": 10, "date": 1}, {"year": 2010, "month": 4, "date": 1}, {"year": 2010, "month": 10, "date": 1},
                      {"year": 2011, "month": 4, "date": 1}, {"year": 2011, "month": 10, "date": 1}, {"year": 2012, "month": 4, "date": 1},
                      {"year": 2012, "month": 10, "date": 1}, {"year": 2013, "month": 4, "date": 1}, {"year": 2013, "month": 10, "date": 1},
                      {"year": 2014, "month": 4, "date": 1}, {"year": 2014, "month": 10, "date": 1}, {"year": 2015, "month": 4, "date": 1}
                    ],
                    "tickSize": 11, "tickWidth": 2, "tickColor": "#222222", "domainColor": "#222222", "domainWidth": 2.5,
                    "grid": true, "gridColor": "#d0d0d0", "gridWidth": 2.2,
                    "titleFontSize": 22, "titlePadding": 24
                  }
                },
                "y": {
                  "field": "Eta", "type": "quantitative",
                  "axis": {
                    "orient": "left", "title": "Eta [%]", "format": "~g", "labelFontSize": 23, "labelPadding": 3,
                    "values": [15, 15.5, 16, 16.5, 17, 17.5, 18, 18.5, 19],
                    "tickSize": 10, "tickWidth": 2, "tickColor": "#222222", "domainColor": "#222222", "domainWidth": 2.5,
                    "grid": true, "gridWidth": 2.2,
                    "gridColor": {"condition": {"test": "datum.value === 15 || datum.value === 19", "value": "transparent"}, "value": "#d0d0d0"},
                    "titleFontSize": 18, "titlePadding": 39
                  }
                },
                "text": {"field": "Location", "type": "nominal"},
                "color": {
                  "field": "Process", "type": "nominal",
                  "scale": {
                    "domain": ["2DS", "2DS (270kg)", "2GT", "Blend", "Blend (1DS)", "Blend (1DS, 270kg)", "Blend (270kg)"],
                    "range": ["#dd4456", "#3bb23b", "#4169e1", "#d27a2c", "#1fbe8e", "#a030dd", "#c9c22b"]
                  },
                  "legend": {
                    "title": "Process", "orient": "none", "legendX": 1075, "legendY": 559,
                    "fillColor": "white", "padding": 5,
                    "titleFont": "DejaVu Sans", "titleFontSize": 24, "titleFontWeight": "bold", "titleColor": "#111111", "titlePadding": 4,
                    "labelFont": "DejaVu Sans", "labelFontSize": 22, "labelColor": "#111111", "labelLimit": 400, "labelOffset": 22,
                    "symbolType": "circle", "symbolSize": 272, "symbolStrokeWidth": 0, "symbolOpacity": 1, "rowPadding": 9.5
                  }
                }
              }
            },
            {
              "data": {"values": [{"Date": "2009-09-27", "Eta": 15.476, "End date": "2015-06-19", "End eta": 18.004}]},
              "mark": {"type": "rule", "color": "#000000", "strokeWidth": 4.5},
              "encoding": {
                "x": {"field": "Date", "type": "temporal"},
                "y": {"field": "Eta", "type": "quantitative"},
                "x2": {"field": "End date"},
                "y2": {"field": "End eta"}
              }
            },
            {
              "data": {"values": [{"Date": "2015-05-22", "Eta": 17.97}]},
              "mark": {"type": "point", "shape": "M -1 -0.7 L 0 0 L -1 0.7", "size": 1000, "angle": -21, "filled": false, "color": "#000000", "strokeWidth": 4.5, "strokeJoin": "miter", "opacity": 1},
              "encoding": {
                "x": {"field": "Date", "type": "temporal"},
                "y": {"field": "Eta", "type": "quantitative"}
              }
            },
            {
              "data": {"values": [{"Date": "2011-12-09", "Eta": 18.757}]},
              "mark": {"type": "point", "shape": "M 1 0 C 1 0.403 0.552 0.73 0 0.73 C -0.552 0.73 -1 0.403 -1 0 C -1 -0.403 -0.552 -0.73 0 -0.73 C 0.552 -0.73 1 -0.403 1 0 Z", "size": 17530, "filled": false, "color": "#0f5a8a", "strokeWidth": 4.5, "opacity": 1},
              "encoding": {
                "x": {"field": "Date", "type": "temporal"},
                "y": {"field": "Eta", "type": "quantitative"}
              }
            },
            {
              "data": {"values": [{"Date": "2012-09-26", "Eta": 17.963}, {"Date": "2015-01-16", "Eta": 17.955}]},
              "mark": {"type": "point", "shape": "M 1 0 C 1 0.456 0.552 0.826 0 0.826 C -0.552 0.826 -1 0.456 -1 0 C -1 -0.456 -0.552 -0.826 0 -0.826 C 0.552 -0.826 1 -0.456 1 0 Z", "size": 29173, "filled": false, "color": "#0f5a8a", "strokeWidth": 4.5, "opacity": 1},
              "encoding": {
                "x": {"field": "Date", "type": "temporal"},
                "y": {"field": "Eta", "type": "quantitative"}
              }
            },
            {
              "data": {"values": [
                {"Date": "2012-09-06", "Eta": 18.759, "End date": "2012-04-24", "End eta": 18.776},
                {"Date": "2012-09-25", "Eta": 18.667, "End date": "2012-09-25", "End eta": 18.409}
              ]},
              "mark": {"type": "rule", "color": "#1d6fc2", "strokeWidth": 4},
              "encoding": {
                "x": {"field": "Date", "type": "temporal"},
                "y": {"field": "Eta", "type": "quantitative"},
                "x2": {"field": "End date"},
                "y2": {"field": "End eta"}
              }
            },
            {
              "data": {"values": [{"Date": "2012-04-24", "Eta": 18.776}]},
              "mark": {"type": "point", "shape": "M -1 -0.7 L 0 0 L -1 0.7", "size": 900, "angle": 182, "filled": false, "color": "#1d6fc2", "strokeWidth": 4, "strokeJoin": "miter", "opacity": 1},
              "encoding": {
                "x": {"field": "Date", "type": "temporal"},
                "y": {"field": "Eta", "type": "quantitative"}
              }
            },
            {
              "data": {"values": [{"Date": "2012-09-25", "Eta": 18.409}]},
              "mark": {"type": "point", "shape": "M -1 -0.7 L 0 0 L -1 0.7", "size": 900, "angle": 90, "filled": false, "color": "#1d6fc2", "strokeWidth": 4, "strokeJoin": "miter", "opacity": 1},
              "encoding": {
                "x": {"field": "Date", "type": "temporal"},
                "y": {"field": "Eta", "type": "quantitative"}
              }
            },
            {
              "data": {"values": [
                {"Date": "2012-10-19", "Eta": 18.738, "Label": "PERC Cells"},
                {"Date": "2014-02-21", "Eta": 17.949, "Label": "HP-MC"}
              ]},
              "mark": {"type": "text", "font": "Lato", "fontSize": 28, "align": "left", "baseline": "middle", "color": "#000000"},
              "encoding": {
                "x": {"field": "Date", "type": "temporal"},
                "y": {"field": "Eta", "type": "quantitative"},
                "text": {"field": "Label", "type": "nominal"}
              }
            }
          ]
        }
      ]
    },
    {
      "width": 196,
      "height": 452,
      "view": {"stroke": null},
      "layer": [
        {
          "data": {"values": [{"Header": "Location"}]},
          "mark": {"type": "rect", "color": "#f3f3f3"},
          "encoding": {
            "y": {"field": "Header", "type": "nominal", "axis": null,
                  "scale": {"type": "band", "domain": ["Location", "A", "B", "C", "D", "E", "F", "G", "H", "I", "J", "K", "L", "M"], "paddingInner": 0, "paddingOuter": 0.18}}
          }
        },
        {
          "data": {"values": [{"Header": "Location"}]},
          "mark": {"type": "text", "font": "DejaVu Sans", "fontSize": 23, "fontWeight": "bold", "align": "left", "baseline": "middle", "dx": -90, "color": "#111111"},
          "encoding": {
            "y": {"field": "Header", "type": "nominal", "axis": null},
            "text": {"field": "Header", "type": "nominal"}
          }
        },
        {
          "data": {"values": [
            {"Letter": "A", "Name": "Customer A"}, {"Letter": "B", "Name": "Customer B"}, {"Letter": "C", "Name": "Customer C"},
            {"Letter": "D", "Name": "Customer D"}, {"Letter": "E", "Name": "Customer E"}, {"Letter": "F", "Name": "Customer F"},
            {"Letter": "G", "Name": "Customer G"}, {"Letter": "H", "Name": "Customer H"}, {"Letter": "I", "Name": "Customer I"},
            {"Letter": "J", "Name": "Customer J"}, {"Letter": "K", "Name": "Customer K"}, {"Letter": "L", "Name": "Customer L"},
            {"Letter": "M", "Name": "Sunnyvale"}
          ]},
          "layer": [
            {
              "mark": {"type": "text", "font": "Liberation Sans", "fontSize": 31, "align": "center", "baseline": "middle", "dx": -87, "color": "#111111"},
              "encoding": {
                "y": {"field": "Letter", "type": "nominal", "axis": null},
                "text": {"field": "Letter", "type": "nominal"}
              }
            },
            {
              "mark": {"type": "text", "font": "DejaVu Sans", "fontSize": 23, "align": "left", "baseline": "middle", "dx": -55, "color": "#111111"},
              "encoding": {
                "y": {"field": "Letter", "type": "nominal", "axis": null},
                "text": {"field": "Name", "type": "nominal"}
              }
            }
          ]
        }
      ]
    }
  ]
}
